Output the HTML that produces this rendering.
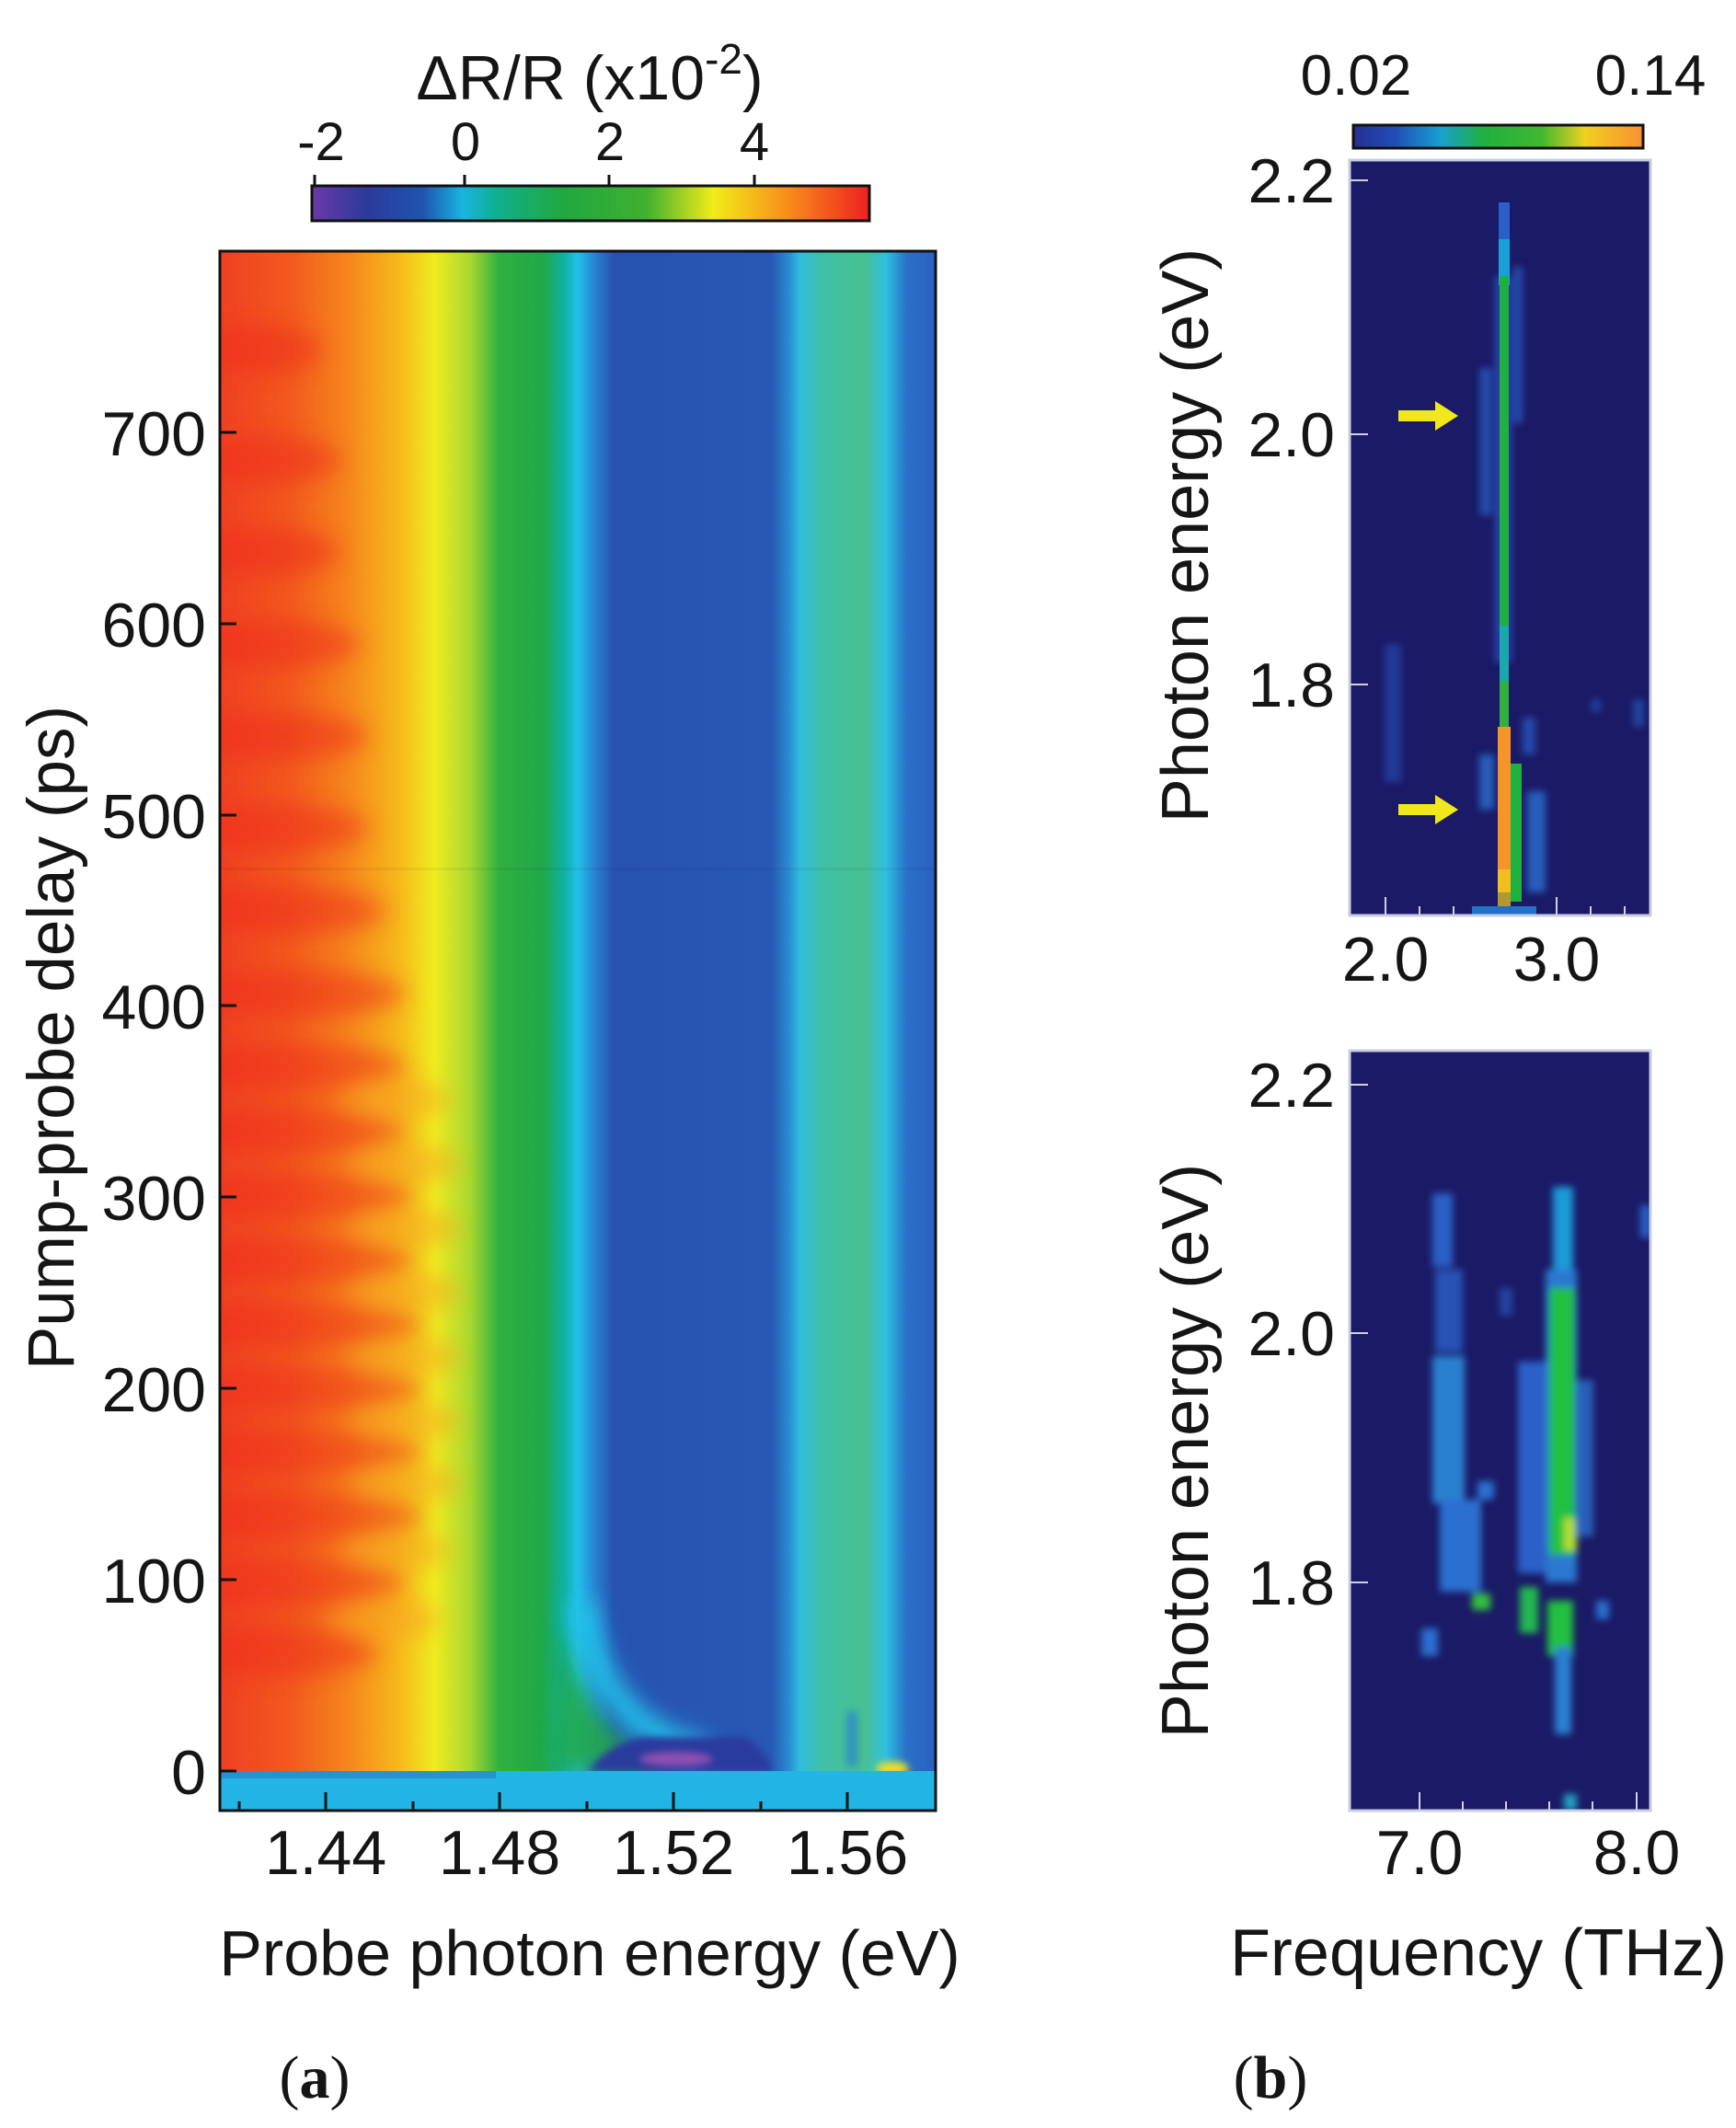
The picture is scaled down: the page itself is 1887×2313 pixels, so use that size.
<!DOCTYPE html>
<html><head><meta charset="utf-8"><style>
html,body{margin:0;padding:0;background:#fff;}
svg{display:block;}
text{font-family:"Liberation Sans",Arial,sans-serif;fill:#151515;}
</style></head><body>
<svg width="1887" height="2313" viewBox="0 0 1887 2313" xmlns="http://www.w3.org/2000/svg">
<defs>
<linearGradient id="cb" x1="0" x2="1" y1="0" y2="0">
<stop offset="0" stop-color="#6a3aa8"/><stop offset="0.1" stop-color="#2c3a9a"/><stop offset="0.2" stop-color="#1f55b0"/>
<stop offset="0.27" stop-color="#18b4e0"/><stop offset="0.33" stop-color="#10b090"/><stop offset="0.45" stop-color="#20a840"/>
<stop offset="0.6" stop-color="#40b030"/><stop offset="0.72" stop-color="#f0ec18"/><stop offset="0.85" stop-color="#f8901a"/><stop offset="1" stop-color="#ee2020"/>
</linearGradient>
<linearGradient id="cb2" x1="0" x2="1" y1="0" y2="0">
<stop offset="0" stop-color="#282e90"/><stop offset="0.15" stop-color="#2050b8"/><stop offset="0.3" stop-color="#18a0d0"/>
<stop offset="0.45" stop-color="#20b040"/><stop offset="0.65" stop-color="#40b830"/><stop offset="0.8" stop-color="#f0d020"/><stop offset="1" stop-color="#f89030"/>
</linearGradient>
<linearGradient id="main" x1="0" x2="1" y1="0" y2="0">
<stop offset="0" stop-color="#f04022"/><stop offset="0.1" stop-color="#f25a1e"/><stop offset="0.18" stop-color="#f6861d"/>
<stop offset="0.25" stop-color="#f6b81c"/><stop offset="0.3" stop-color="#eeec20"/><stop offset="0.35" stop-color="#a8d830"/>
<stop offset="0.39" stop-color="#30b040"/><stop offset="0.45" stop-color="#20a848"/><stop offset="0.48" stop-color="#10b0a0"/>
<stop offset="0.5" stop-color="#22c0e8"/><stop offset="0.525" stop-color="#2a80d0"/><stop offset="0.55" stop-color="#2752b0"/>
<stop offset="0.77" stop-color="#2858b4"/><stop offset="0.795" stop-color="#2a8cd0"/><stop offset="0.81" stop-color="#30bce0"/>
<stop offset="0.84" stop-color="#40c0a8"/><stop offset="0.9" stop-color="#48c090"/><stop offset="0.93" stop-color="#30c0e0"/>
<stop offset="0.96" stop-color="#2a70c8"/><stop offset="1" stop-color="#2a60c0"/>
</linearGradient>
<filter id="bl" x="-50%" y="-50%" width="200%" height="200%"><feGaussianBlur stdDeviation="12"/></filter>
<filter id="bl2" x="-50%" y="-50%" width="200%" height="200%"><feGaussianBlur stdDeviation="4"/></filter>
<clipPath id="cpA"><rect x="239" y="273" width="778" height="1695"/></clipPath>
<clipPath id="cpB"><rect x="1467" y="174" width="327" height="821"/></clipPath>
<clipPath id="cpC"><rect x="1467" y="1142" width="327" height="826"/></clipPath>
</defs>

<text x="641" y="108" font-size="68" text-anchor="middle">ΔR/R (x10<tspan dy="-28" font-size="46">-2</tspan><tspan dy="28">)</tspan></text>
<text x="349" y="174" font-size="58" text-anchor="middle">-2</text>
<text x="506" y="174" font-size="58" text-anchor="middle">0</text>
<text x="663" y="174" font-size="58" text-anchor="middle">2</text>
<text x="820" y="174" font-size="58" text-anchor="middle">4</text>
<rect x="339" y="202" width="606" height="38" fill="url(#cb)" stroke="#111" stroke-width="3"/>
<g stroke="#111" stroke-width="3"><line x1="342" y1="190" x2="342" y2="202"/><line x1="505" y1="190" x2="505" y2="202"/><line x1="662" y1="190" x2="662" y2="202"/><line x1="820" y1="190" x2="820" y2="202"/></g>

<g clip-path="url(#cpA)">
<rect x="239" y="273" width="778" height="1695" fill="url(#main)"/>
<g fill="#ee2a1e" opacity="0.5" filter="url(#bl)">
<ellipse cx="300" cy="1795" rx="110" ry="28"/><ellipse cx="310" cy="1720" rx="130" ry="28"/><ellipse cx="320" cy="1648" rx="140" ry="28"/>
<ellipse cx="320" cy="1578" rx="140" ry="26"/><ellipse cx="320" cy="1510" rx="140" ry="26"/><ellipse cx="320" cy="1440" rx="140" ry="26"/>
<ellipse cx="320" cy="1370" rx="130" ry="26"/><ellipse cx="320" cy="1300" rx="130" ry="26"/><ellipse cx="320" cy="1230" rx="120" ry="26"/>
<ellipse cx="320" cy="1160" rx="120" ry="26"/><ellipse cx="320" cy="1080" rx="120" ry="26"/><ellipse cx="310" cy="990" rx="110" ry="26"/>
<ellipse cx="300" cy="900" rx="100" ry="26"/><ellipse cx="300" cy="800" rx="100" ry="26"/><ellipse cx="300" cy="700" rx="90" ry="26"/>
<ellipse cx="290" cy="600" rx="80" ry="26"/><ellipse cx="290" cy="500" rx="80" ry="26"/><ellipse cx="280" cy="380" rx="70" ry="26"/>
</g>
<g fill="#f7a020" opacity="0.5" filter="url(#bl)">
<ellipse cx="420" cy="1760" rx="60" ry="22"/><ellipse cx="430" cy="1685" rx="60" ry="22"/><ellipse cx="440" cy="1612" rx="60" ry="22"/>
<ellipse cx="440" cy="1545" rx="60" ry="22"/><ellipse cx="440" cy="1475" rx="60" ry="22"/><ellipse cx="440" cy="1405" rx="60" ry="22"/>
<ellipse cx="440" cy="1335" rx="60" ry="22"/><ellipse cx="440" cy="1265" rx="60" ry="22"/><ellipse cx="430" cy="1195" rx="60" ry="22"/>
</g>
<path d="M610 1760 Q640 1890 730 1925 L600 1925 Z" fill="#20a848" opacity="0.9" filter="url(#bl)"/>
<path d="M632 1740 Q650 1880 770 1905" fill="none" stroke="#22c0e8" stroke-width="28" filter="url(#bl)"/>
<path d="M640 1925 Q660 1895 700 1888 L810 1888 Q830 1900 840 1925 Z" fill="#2c3a9e" filter="url(#bl2)"/>
<ellipse cx="735" cy="1912" rx="40" ry="8" fill="#9050b0" filter="url(#bl2)"/>
<rect x="920" y="1860" width="12" height="60" fill="#2a80d0" opacity="0.7" filter="url(#bl2)"/>
<ellipse cx="970" cy="1922" rx="18" ry="7" fill="#f0e020" filter="url(#bl2)"/>
<rect x="239" y="1925" width="778" height="43" fill="#22b4e4"/>
<rect x="239" y="1925" width="300" height="8" fill="#2a70c0" opacity="0.5"/>
<rect x="239" y="943" width="778" height="3" fill="#000" opacity="0.05"/>
</g>
<rect x="239" y="273" width="778" height="1695" fill="none" stroke="#111" stroke-width="3"/>
<g stroke="#111" stroke-width="3">
<line x1="239" y1="1925" x2="257" y2="1925"/><line x1="239" y1="1717" x2="257" y2="1717"/><line x1="239" y1="1509" x2="257" y2="1509"/>
<line x1="239" y1="1301" x2="257" y2="1301"/><line x1="239" y1="1093" x2="257" y2="1093"/><line x1="239" y1="886" x2="257" y2="886"/>
<line x1="239" y1="678" x2="257" y2="678"/><line x1="239" y1="470" x2="257" y2="470"/>
<line x1="354" y1="1968" x2="354" y2="1948"/><line x1="543" y1="1968" x2="543" y2="1948"/><line x1="732" y1="1968" x2="732" y2="1948"/><line x1="921" y1="1968" x2="921" y2="1948"/>
<line x1="260" y1="1968" x2="260" y2="1958"/><line x1="449" y1="1968" x2="449" y2="1958"/><line x1="638" y1="1968" x2="638" y2="1958"/><line x1="827" y1="1968" x2="827" y2="1958"/>
</g>
<g font-size="68" text-anchor="end">
<text x="224" y="1950">0</text><text x="224" y="1742">100</text><text x="224" y="1534">200</text><text x="224" y="1326">300</text>
<text x="224" y="1118">400</text><text x="224" y="911">500</text><text x="224" y="703">600</text><text x="224" y="495">700</text>
</g>
<g font-size="68" text-anchor="middle">
<text x="354" y="2037">1.44</text><text x="543" y="2037">1.48</text><text x="732" y="2037">1.52</text><text x="921" y="2037">1.56</text>
</g>
<text x="641" y="2147" font-size="70" text-anchor="middle">Probe photon energy (eV)</text>
<text transform="translate(80,1128) rotate(-90)" font-size="71" text-anchor="middle">Pump-probe delay (ps)</text>
<text x="342" y="2280" font-size="66" text-anchor="middle" style="font-family:'Liberation Serif',serif">(<tspan font-weight="bold">a</tspan>)</text>

<text x="1474" y="103" font-size="62" text-anchor="middle">0.02</text>
<text x="1794" y="103" font-size="62" text-anchor="middle">0.14</text>
<rect x="1471" y="136" width="315" height="25" fill="url(#cb2)" stroke="#111" stroke-width="3"/>

<g clip-path="url(#cpB)">
<rect x="1467" y="174" width="327" height="821" fill="#1b1a66"/>
<g filter="url(#bl2)">
<rect x="1625" y="300" width="18" height="420" fill="#2a50c0" opacity="0.8"/>
<rect x="1608" y="400" width="14" height="160" fill="#2a60c8" opacity="0.7"/>
<rect x="1645" y="290" width="10" height="170" fill="#2a60c8" opacity="0.7"/>
<rect x="1660" y="860" width="20" height="110" fill="#2a70d0" opacity="0.8"/>
<rect x="1608" y="820" width="16" height="60" fill="#2a70d0" opacity="0.8"/>
<rect x="1505" y="700" width="18" height="150" fill="#2a50b8" opacity="0.6"/>
<rect x="1655" y="780" width="14" height="40" fill="#2a60c8" opacity="0.7"/>
<rect x="1775" y="760" width="12" height="30" fill="#2a60c8" opacity="0.6"/>
<rect x="1730" y="760" width="10" height="14" fill="#2a60c8" opacity="0.6"/>
</g>
<rect x="1629" y="220" width="12" height="70" fill="#2a60c8"/>
<rect x="1629" y="260" width="12" height="50" fill="#1aa0d8"/>
<rect x="1630" y="300" width="10" height="400" fill="#20b040"/>
<rect x="1630" y="680" width="10" height="60" fill="#1aa8b0"/>
<rect x="1630" y="740" width="10" height="50" fill="#30b040"/>
<rect x="1628" y="790" width="14" height="180" fill="#f59428"/>
<rect x="1642" y="830" width="12" height="150" fill="#20b040"/>
<rect x="1628" y="945" width="14" height="40" fill="#f0d020" opacity="0.7"/>
<rect x="1600" y="985" width="70" height="10" fill="#2070c8"/>
</g>
<rect x="1467" y="174" width="327" height="821" fill="none" stroke="#c8cce0" stroke-width="3"/>
<g stroke="#d0d0e0" stroke-width="2">
<line x1="1467" y1="196" x2="1487" y2="196"/><line x1="1467" y1="472" x2="1487" y2="472"/><line x1="1467" y1="744" x2="1487" y2="744"/>
<line x1="1506" y1="995" x2="1506" y2="975"/><line x1="1692" y1="995" x2="1692" y2="975"/><line x1="1543" y1="995" x2="1543" y2="985"/><line x1="1580" y1="995" x2="1580" y2="985"/><line x1="1729" y1="995" x2="1729" y2="985"/><line x1="1766" y1="995" x2="1766" y2="985"/>
</g>
<g font-size="68" text-anchor="end">
<text x="1451" y="220">2.2</text><text x="1451" y="496">2.0</text><text x="1451" y="768">1.8</text>
</g>
<g font-size="68" text-anchor="middle">
<text x="1506" y="1066">2.0</text><text x="1692" y="1066">3.0</text>
</g>
<text transform="translate(1313,582) rotate(-90)" font-size="72" text-anchor="middle">Photon energy (eV)</text>
<g fill="#f0e81a">
<path d="M1520 446 L1560 446 L1560 436 L1585 452 L1560 468 L1560 458 L1520 458 Z"/>
<path d="M1520 874 L1560 874 L1560 864 L1585 880 L1560 896 L1560 886 L1520 886 Z"/>
</g>

<g clip-path="url(#cpC)">
<rect x="1467" y="1142" width="327" height="826" fill="#1b1a66"/>
<g filter="url(#bl2)">
<rect x="1557" y="1297" width="22" height="80" fill="#2a60c8"/>
<rect x="1560" y="1380" width="30" height="90" fill="#2a60c8" opacity="0.8"/>
<rect x="1557" y="1474" width="35" height="160" fill="#2a80d0"/>
<rect x="1565" y="1630" width="45" height="100" fill="#2a70d0"/>
<rect x="1606" y="1610" width="18" height="20" fill="#2a70d0"/>
<rect x="1600" y="1732" width="20" height="18" fill="#30c040"/>
<rect x="1545" y="1770" width="18" height="30" fill="#2a70d0"/>
<rect x="1630" y="1400" width="14" height="30" fill="#2a60c8" opacity="0.6"/>
<rect x="1650" y="1480" width="30" height="230" fill="#2a60c8"/>
<rect x="1688" y="1290" width="22" height="90" fill="#1a9ad8"/>
<rect x="1680" y="1380" width="34" height="340" fill="#2a78d0"/>
<rect x="1684" y="1400" width="28" height="290" fill="#20c040"/>
<rect x="1700" y="1650" width="14" height="35" fill="#b0e030"/>
<rect x="1712" y="1500" width="20" height="170" fill="#2a70d0" opacity="0.8"/>
<rect x="1652" y="1725" width="20" height="50" fill="#20b850"/>
<rect x="1682" y="1740" width="28" height="60" fill="#20c040"/>
<rect x="1690" y="1790" width="18" height="95" fill="#2a80d0"/>
<rect x="1735" y="1740" width="14" height="20" fill="#2a70d0"/>
<rect x="1783" y="1310" width="12" height="35" fill="#2a60c8"/>
<rect x="1700" y="1950" width="14" height="18" fill="#20a0c0"/>
</g>
</g>
<rect x="1467" y="1142" width="327" height="826" fill="none" stroke="#c8cce0" stroke-width="3"/>
<g stroke="#d0d0e0" stroke-width="2">
<line x1="1467" y1="1179" x2="1487" y2="1179"/><line x1="1467" y1="1449" x2="1487" y2="1449"/><line x1="1467" y1="1720" x2="1487" y2="1720"/>
<line x1="1543" y1="1968" x2="1543" y2="1948"/><line x1="1779" y1="1968" x2="1779" y2="1948"/><line x1="1590" y1="1968" x2="1590" y2="1958"/><line x1="1637" y1="1968" x2="1637" y2="1958"/><line x1="1684" y1="1968" x2="1684" y2="1958"/><line x1="1731" y1="1968" x2="1731" y2="1958"/>
</g>
<g font-size="68" text-anchor="end">
<text x="1451" y="1203">2.2</text><text x="1451" y="1473">2.0</text><text x="1451" y="1744">1.8</text>
</g>
<g font-size="68" text-anchor="middle">
<text x="1543" y="2037">7.0</text><text x="1779" y="2037">8.0</text>
</g>
<text transform="translate(1313,1577) rotate(-90)" font-size="72" text-anchor="middle">Photon energy (eV)</text>
<text x="1607" y="2147" font-size="72" text-anchor="middle">Frequency (THz)</text>
<text x="1381" y="2280" font-size="66" text-anchor="middle" style="font-family:'Liberation Serif',serif">(<tspan font-weight="bold">b</tspan>)</text>
</svg>
</body></html>
